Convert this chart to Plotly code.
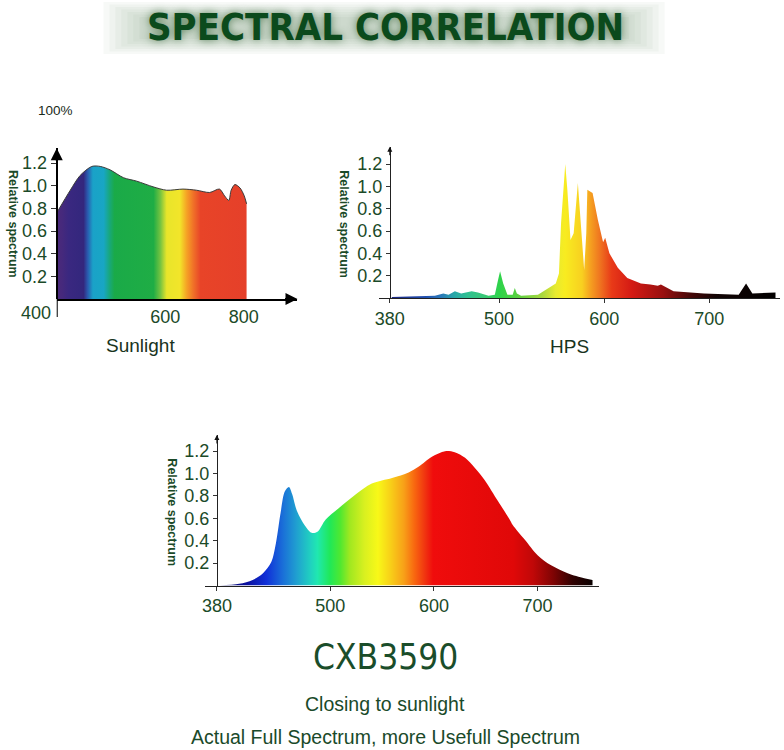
import plotly.graph_objects as go

W, H = 784, 750

# ---------------- data ----------------
sun_nm = [400, 429, 450, 475, 493, 514, 543, 571, 606, 635, 670, 699, 727, 748, 759, 768, 773, 781, 792, 801, 806]
sun_rel = [0.76, 0.96, 1.09, 1.17, 1.17, 1.14, 1.07, 1.04, 0.99, 0.96, 0.97, 0.96, 0.94, 0.97, 0.91, 0.87, 0.96, 1.01, 0.98, 0.91, 0.84]

hps_nm = [398, 439, 447, 452, 458, 464, 474, 480, 490, 496, 499, 501, 504, 508, 513, 515, 517, 521,
          537, 547, 554, 557, 559, 563, 565, 568, 571, 575, 578, 581, 583, 584, 589, 594, 599, 601,
          605, 613, 622, 635, 644, 651, 654, 660, 666, 695, 728, 735, 741, 763]
hps_rel = [0.01, 0.02, 0.04, 0.03, 0.06, 0.04, 0.06, 0.05, 0.02, 0.03, 0.16, 0.24, 0.13, 0.03, 0.03, 0.09, 0.04, 0.02,
           0.03, 0.09, 0.13, 0.22, 0.67, 1.20, 0.97, 0.52, 0.58, 1.03, 0.67, 0.25, 0.58, 0.97, 0.94, 0.70, 0.50, 0.54,
           0.40, 0.27, 0.18, 0.13, 0.12, 0.11, 0.12, 0.09, 0.06, 0.04, 0.03, 0.13, 0.04, 0.05]

cxb_nm = [393, 412, 425, 435, 443, 447.5, 452, 456, 460, 463, 468, 475, 482, 487.5, 495.5, 508, 524, 540,
          559.5, 575.5, 585, 598, 610.7, 620, 630, 639.5, 649, 662, 673, 676, 687.5, 700, 713, 729, 745, 753]
cxb_rel = [0.0, 0.015, 0.05, 0.11, 0.21, 0.38, 0.65, 0.84, 0.88, 0.82, 0.66, 0.54, 0.47, 0.48, 0.59, 0.69, 0.81, 0.91,
           0.96, 1.01, 1.06, 1.15, 1.20, 1.19, 1.14, 1.05, 0.94, 0.75, 0.59, 0.54, 0.41, 0.27, 0.18, 0.11, 0.065, 0.05]

y_ticks = [0.2, 0.4, 0.6, 0.8, 1.0, 1.2]
sun_x_labels = ["600", "800"]
sun_x_label_pos = [632, 800]
hps_x_labels = ["380", "500", "600", "700"]
cxb_x_labels = ["380", "500", "600", "700"]

# ---------------- styles ----------------
GREEN = "#1b4a28"
DARK = "#183320"
FONT = "Liberation Sans, Arial, sans-serif"
NARROW = "DejaVu Sans Condensed, Liberation Sans Narrow, Liberation Sans, sans-serif"

sun_stops = [(400, "#4b2a7a"), (411, "#46297c"), (425, "#3a2880"), (457, "#33277d"), (466, "#2a5cb0"),
             (477, "#1aa2c8"), (500, "#18a6c4"), (513, "#18a878"), (523, "#1aaa48"), (606, "#1fad45"),
             (621, "#78c440"), (634, "#e8e52a"), (662, "#f2e52a"), (677, "#f5a025"), (691, "#f07028"),
             (706, "#e84428"), (806, "#e5402a")]
hps_stops = [(396, "#1a237e"), (430, "#1f4fb0"), (445, "#2a7ab8"), (457, "#28a8a8"), (470, "#30c090"),
             (485, "#38c878"), (500, "#2ed34a"), (518, "#5cd040"), (540, "#a8d840"), (553, "#e8ea30"),
             (562, "#f8ec20"), (578, "#f8d020"), (586, "#f5a020"), (595, "#ef7420"), (606, "#e83a18"),
             (625, "#d41a14"), (655, "#981010"), (680, "#480808"), (705, "#120404"), (767, "#000000")]
cxb_stops = [(390, "#101060"), (420, "#0a10a0"), (438, "#1030d8"), (454, "#1a70d8"), (467, "#20a0d0"),
             (480, "#20d0c0"), (487, "#20e8b0"), (499, "#20e858"), (509, "#50e830"), (518, "#a0e820"),
             (532, "#d8f020"), (545, "#f8f818"), (557, "#f8d018"), (570, "#f8a018"), (580, "#f86810"),
             (591, "#f03010"), (598, "#f00c0c"), (675, "#e00808"), (694, "#c00808"), (713, "#800404"),
             (732, "#300202"), (752, "#080000"), (760, "#000000")]


def grad(stops):
    a, b = stops[0][0], stops[-1][0]
    return dict(type="horizontal", start=a, stop=b,
                colorscale=[[(s - a) / (b - a), c] for s, c in stops])


def px(p):
    return p / W


def py(p):
    return 1 - p / H


geo = {
    "sun": dict(xd=(53, 295), xr=(400, 400 + 242 / 0.47), org=400, yd=(148.3, 299), yt=1.33),
    "hps": dict(xd=(377, 780), xr=(385.9, 767.3), org=396.1, yd=(146.7, 298), yt=1.355),
    "cxb": dict(xd=(201.7, 598), xr=(378.7, 759.2), org=390.5, yd=(435, 585.5), yt=1.344),
}

fig = go.Figure()

fig.add_trace(go.Scatter(x=sun_nm, y=sun_rel, mode="lines", fill="tozeroy",
                         line=dict(color="#3a3a3a", width=1, shape="spline", smoothing=0.8),
                         fillgradient=grad(sun_stops), xaxis="x", yaxis="y", hoverinfo="skip"))
fig.add_trace(go.Scatter(x=hps_nm, y=hps_rel, mode="lines", fill="tozeroy",
                         line=dict(color="rgba(0,0,0,0)", width=0),
                         fillgradient=grad(hps_stops), xaxis="x2", yaxis="y2", hoverinfo="skip"))
fig.add_trace(go.Scatter(x=cxb_nm, y=cxb_rel, mode="lines", fill="tozeroy",
                         line=dict(color="rgba(0,0,0,0)", width=0, shape="spline", smoothing=0.9),
                         fillgradient=grad(cxb_stops), xaxis="x3", yaxis="y3", hoverinfo="skip"))

layout = dict(width=W, height=H, margin=dict(l=0, r=0, t=0, b=0), showlegend=False,
              paper_bgcolor="white", plot_bgcolor="rgba(0,0,0,0)")

names = [("sun", "", ""), ("hps", "2", "2"), ("cxb", "3", "3")]
for key, xs, ys in names:
    g = geo[key]
    big = key == "sun"
    lc = "black" if big else "#222222"
    lw = 2 if big else 1
    xd0, xd1 = g["xd"]
    pos = (xd0 + (g["org"] - g["xr"][0]) / (g["xr"][1] - g["xr"][0]) * (xd1 - xd0)) / W
    if key == "sun":
        tv, tt = sun_x_label_pos, sun_x_labels
    elif key == "hps":
        tv, tt = [g["org"], 500, 600, 700], hps_x_labels
    else:
        tv, tt = [g["org"], 500, 600, 700], cxb_x_labels
    layout["xaxis" + xs] = dict(domain=[px(xd0), px(xd1)], range=list(g["xr"]), anchor="y" + ys,
                                showline=True, linecolor=lc, linewidth=lw, showgrid=False, zeroline=False,
                                ticks="" if big else "outside", ticklen=4, tickcolor="#333",
                                tickvals=tv, ticktext=tt,
                                tickfont=dict(family=FONT, size=18, color=GREEN), fixedrange=True)
    layout["yaxis" + ys] = dict(domain=[py(g["yd"][1]), py(g["yd"][0])], range=[0, g["yt"]],
                                anchor="free", position=pos,
                                showline=True, linecolor=lc, linewidth=lw, showgrid=False, zeroline=False,
                                ticks="outside", ticklen=5 if big else 4, tickcolor="#333",
                                tickvals=y_ticks, tickformat=".1f",
                                tickfont=dict(family=FONT, size=18, color=GREEN), fixedrange=True)

fig.update_layout(**layout)

ann = []
shapes = []

# soft title halo (stacked translucent layers)
for i in range(7):
    x0, x1 = 100 + 6 * i, 664 - 6 * i
    y0, y1 = 2 + 2.5 * i, 54 - 2.5 * i
    shapes.append(dict(type="rect", xref="paper", yref="paper", x0=px(x0), x1=px(x1), y0=py(y1), y1=py(y0),
                       fillcolor="rgba(110,140,110,0.055)", line=dict(width=0), layer="below"))


def text(t, x, y, size, color, family=FONT, **kw):
    f = dict(family=family, size=size, color=color)
    f.update(kw.pop("font_extra", {}))
    d = dict(text=t, x=px(x), y=py(y), xref="paper", yref="paper", showarrow=False,
             xanchor="center", yanchor="middle", font=f)
    d.update(kw)
    ann.append(d)


text("SPECTRAL CORRELATION", 383, 27, 38, "#0b4a1c", family=NARROW,
     font_extra=dict(weight="bold", shadow="0px 0px 8px rgba(40,90,40,0.7)"))

# arrows on axes
ann.append(dict(x=geo["sun"]["org"], y=geo["sun"]["yt"], xref="x", yref="y", text="", showarrow=True,
                ax=0, ay=14, arrowhead=2, arrowsize=1.2, arrowwidth=2, arrowcolor="black"))
ann.append(dict(x=geo["sun"]["xr"][1], y=0, xref="x", yref="y", text="", showarrow=True,
                ax=-14, ay=0, arrowhead=2, arrowsize=1.2, arrowwidth=2, arrowcolor="black"))
ann.append(dict(x=geo["hps"]["org"], y=geo["hps"]["yt"], xref="x2", yref="y2", text="", showarrow=True,
                ax=0, ay=10, arrowhead=2, arrowsize=1, arrowwidth=1, arrowcolor="#111"))
ann.append(dict(x=geo["cxb"]["org"], y=geo["cxb"]["yt"], xref="x3", yref="y3", text="", showarrow=True,
                ax=0, ay=10, arrowhead=2, arrowsize=1, arrowwidth=1, arrowcolor="#111"))

# y-axis stub below origin (sunlight)
shapes.append(dict(type="line", xref="x", yref="paper", x0=400, x1=400, y0=py(299), y1=py(317),
                   line=dict(color="black", width=2)))

# "400" label left of the sunlight origin
ann.append(dict(text="400", x=400, y=0, xref="x", yref="y", showarrow=False, xanchor="right", yanchor="top",
                xshift=-4, yshift=-2, font=dict(family=FONT, size=18, color=GREEN)))

for (xx, yy) in [(9, 224), (341.5, 224), (168.5, 512)]:
    text("Relative spectrum", xx, yy, 12.5, GREEN, textangle=90, font_extra=dict(weight="bold"))

text("100%", 52, 110, 13.5, "#1a2a1a")
text("Sunlight", 137, 345, 19, DARK)
text("HPS", 568, 346, 19, DARK)
text("CXB3590", 383, 657, 35, "#1a4d2a", family=NARROW)
text("Closing to sunlight", 383, 704, 19.5, "#1a4a2a")
text("Actual Full Spectrum, more Usefull Spectrum", 383, 737, 19.5, "#1a4a2a")

fig.update_layout(annotations=ann, shapes=shapes)
fig.write_html("out.html")
